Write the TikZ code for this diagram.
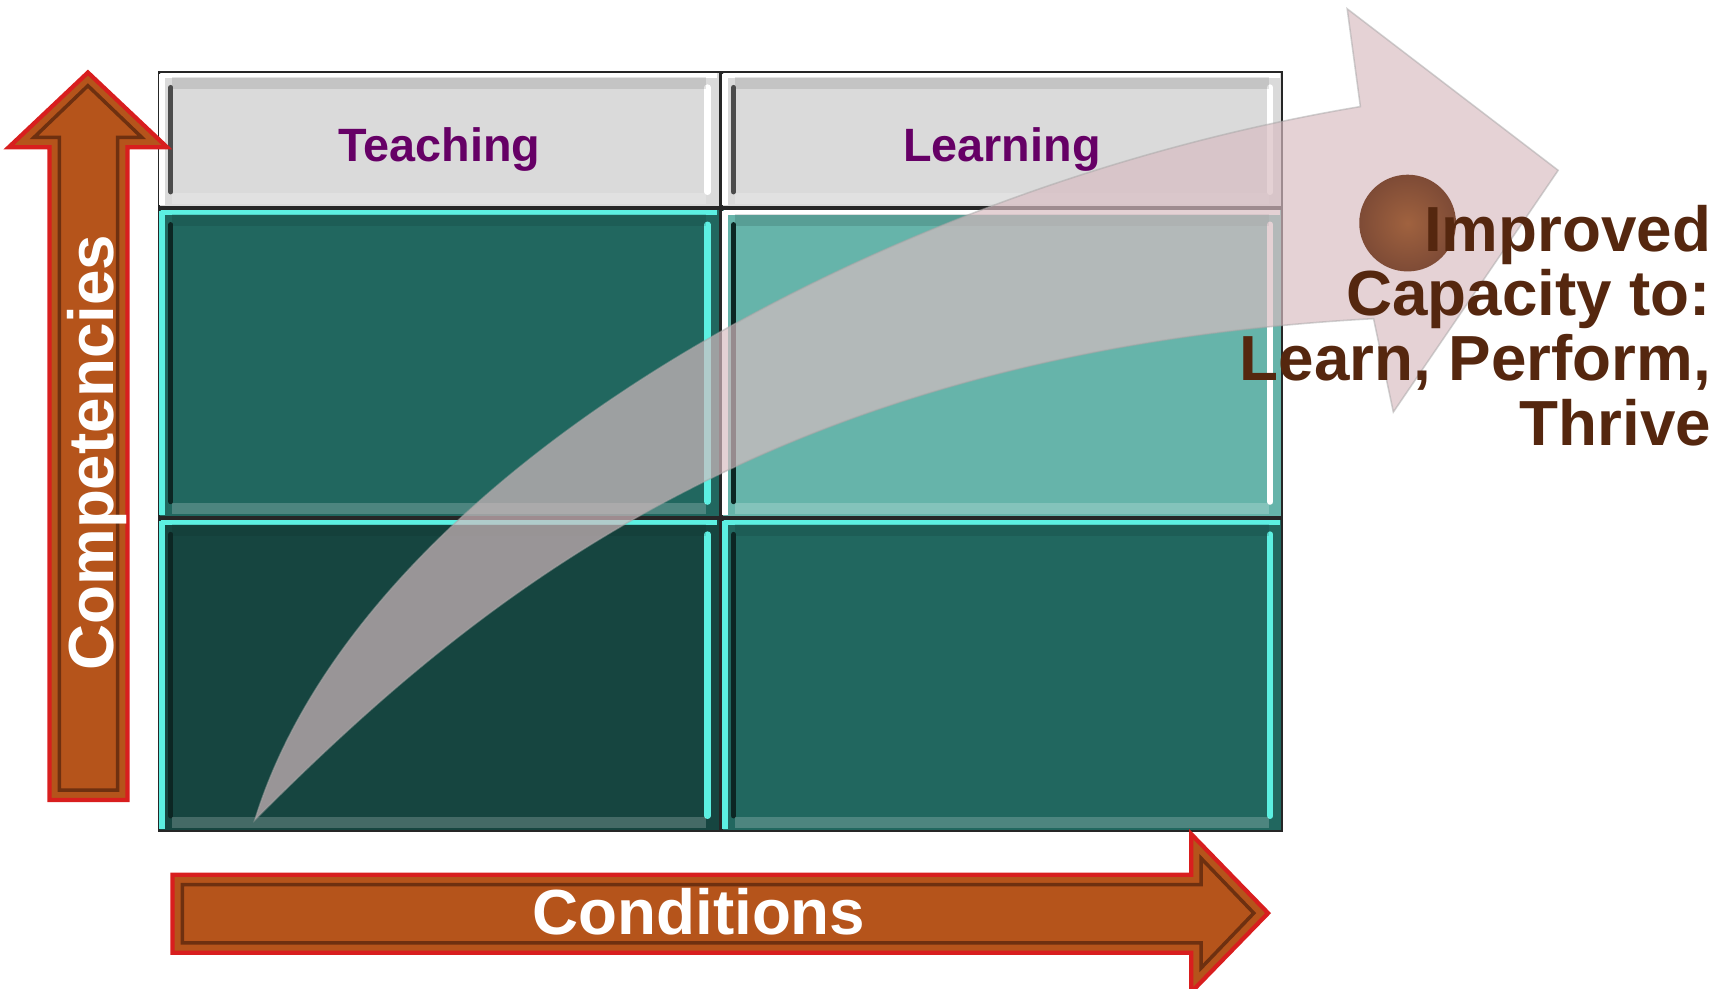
\documentclass[tikz,border=0pt]{standalone}
\usepackage{fontspec}
\setmainfont{Liberation Sans}
\usetikzlibrary{shapes}
\usetikzlibrary{arrows}
\usetikzlibrary{positioning}
\usetikzlibrary{calc}

\definecolor{hdrgray}{HTML}{DADADA}
\definecolor{tealmid}{HTML}{21675F}
\definecolor{teallight}{HTML}{66B4AA}
\definecolor{tealdark}{HTML}{164540}
\definecolor{tealshade}{HTML}{0C2623}
\definecolor{cyanedge}{HTML}{5CF0E2}
\definecolor{rust}{HTML}{B5541B}
\definecolor{rustline}{HTML}{D81E1E}
\definecolor{rustdark}{HTML}{6E3010}
\definecolor{plum}{HTML}{660066}
\definecolor{cocoa}{HTML}{55270F}
\definecolor{swoosh}{HTML}{D8BCC1}
\definecolor{orbin}{HTML}{A0623F}
\definecolor{orbout}{HTML}{7E4B36}

\begin{document}
\begin{tikzpicture}[x=0.01cm, y=-0.01cm]
\tikzstyle{cell} = [rectangle, draw=black!85, line width=0.5pt, minimum width=5.1cm, inner sep=0pt, outer sep=0pt]
\tikzstyle{hdr} = [cell, fill=hdrgray, minimum height=1.23cm]
\tikzstyle{hdrtext} = [text=plum, font=\bfseries\fontsize{12.1pt}{14pt}\selectfont]
\tikzstyle{bigtext} = [text=white, font=\bfseries\fontsize{16.5pt}{18pt}\selectfont, inner sep=0pt]
\tikzstyle{band} = [draw=rustline, line width=1.1pt, fill=rust]
\tikzstyle{bevel} = [draw=rustdark, line width=0.9pt]
\useasboundingbox (0,0) rectangle (1568,900);
\matrix (grid) [column sep=0mm, row sep=0mm, inner sep=0pt, matrix anchor=north west] at (143,64)
{
% header row
\node [hdr] (hdrT) {}; &
\node [hdr] (hdrL) {}; \\
% upper row
\node [cell, fill=tealmid, minimum height=2.8cm] (upT) {}; &
\node [cell, fill=teallight, minimum height=2.8cm] (upL) {}; \\
% lower row
\node [cell, fill=tealdark, minimum height=2.84cm] (lowT) {}; &
\node [cell, fill=tealmid, minimum height=2.84cm] (lowL) {}; \\
};
% bevels of the cells
\foreach \c/\lite/\dark in {hdrT/white/black!70, hdrL/white/black!70, upT/cyanedge/tealshade, upL/white/tealshade, lowT/cyanedge/tealshade, lowL/cyanedge/tealshade}
{
\draw[\lite, line width=1.6pt] ($(\c.north west)+(3,2)$) -- ($(\c.south west)+(3,-2)$);
\draw[\lite, line width=1.2pt] ($(\c.north west)+(2,3)$) -- ($(\c.north east)+(-2,3)$);
\draw[\dark, line width=1.3pt, line cap=round] ($(\c.north west)+(11,14)$) -- ($(\c.south west)+(11,-14)$);
\draw[\lite, line width=1.6pt, line cap=round] ($(\c.north east)+(-11,14)$) -- ($(\c.south east)+(-11,-14)$);
\draw[\dark, opacity=0.15, line width=3pt] ($(\c.north west)+(12,10)$) -- ($(\c.north east)+(-12,10)$);
\draw[white, opacity=0.2, line width=3pt] ($(\c.south west)+(12,-8)$) -- ($(\c.south east)+(-12,-8)$);
}
\node [hdrtext] (teach) at ($(hdrT.center)+(0,9)$) {Teaching};
\node [hdrtext] (learn) at ($(hdrL.center)+(0,9)$) {Learning};
% growth arrow
\draw [fill=swoosh, fill opacity=0.68, draw=black!35, draw opacity=0.5, line width=0.4pt] (232,746) .. controls (330,430) and (800,170) .. (1238,97) -- (1226,8) -- (1418,155) -- (1268,375) -- (1250,290) .. controls (700,320) and (432,546) .. cycle;
\node [circle, minimum size=0.88cm, inner sep=0pt, inner color=orbin, outer color=orbout] (orb) at (1281,203) {};
\node [anchor=base east, align=right, text=cocoa, font=\bfseries\fontsize{16.5pt}{16.7pt}\selectfont, inner sep=0pt] (gain) at (1558,405) {Improved\\Capacity to:\\Learn, Perform,\\Thrive};
% axes
\draw [band] (45,728) -- (45,134) -- (8,134) -- (80,66) -- (152,134) -- (116,134) -- (116,728) -- cycle;
\draw [bevel] (54,719) -- (54,125) -- (31,125) -- (80,78) -- (129,125) -- (107,125) -- (107,719) -- cycle;
\node [bigtext, rotate=90] (comp) at (88,412) {Competencies};
\draw [band] (157,796) -- (1084,796) -- (1084,759) -- (1154,831) -- (1084,903) -- (1084,867) -- (157,867) -- cycle;
\draw [bevel] (166,805) -- (1093,805) -- (1093,781) -- (1141,831) -- (1093,881) -- (1093,858) -- (166,858) -- cycle;
\node [bigtext] (cond) at (636,830) {Conditions};
\end{tikzpicture}
\end{document}
